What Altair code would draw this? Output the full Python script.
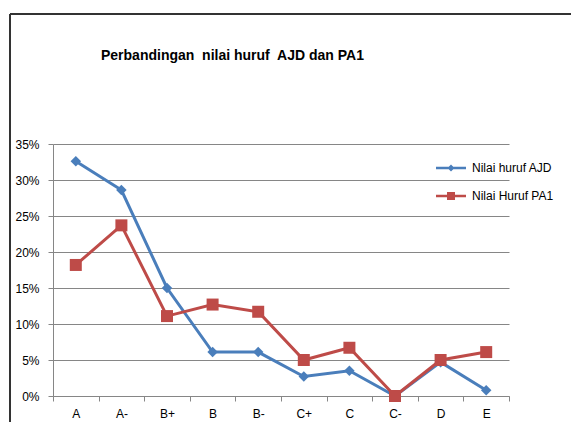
import altair as alt
import pandas as pd

grades = ["A", "A-", "B+", "B", "B-", "C+", "C", "C-", "D", "E"]
ajd = [0.326, 0.286, 0.150, 0.061, 0.061, 0.027, 0.035, 0.0, 0.047, 0.008]
pa1 = [0.182, 0.237, 0.111, 0.127, 0.117, 0.050, 0.067, 0.0, 0.050, 0.061]
series_names = ["Nilai huruf AJD", "Nilai Huruf PA1"]
series_colors = ["#4A7EBB", "#BE4B48"]
y_ticks = [0, 0.05, 0.10, 0.15, 0.20, 0.25, 0.30, 0.35]
title_text = "Perbandingan\u00a0 nilai huruf\u00a0 AJD dan PA1"

rows = []
for g, v in zip(grades, ajd):
    rows.append({"grade": g, "value": v, "series": series_names[0]})
for g, v in zip(grades, pa1):
    rows.append({"grade": g, "value": v, "series": series_names[1]})
df = pd.DataFrame(rows)

FONT = "Liberation Sans"

# legend symbols: a line sample with the series marker on it
legend_paths = [
    "M-3,-0.25L3,-0.25L3,0.25L-3,0.25Z M-0.7,0L0,-0.7L0.7,0L0,0.7Z",
    "M-3,-0.25L3,-0.25L3,0.25L-3,0.25Z M-0.8,-0.8L0.8,-0.8L0.8,0.8L-0.8,0.8Z",
]

x = alt.X(
    "grade:N",
    sort=grades,
    scale=alt.Scale(type="band", paddingInner=0, paddingOuter=0),
    axis=alt.Axis(
        title=None,
        labelAngle=0,
        tickBand="extent",
        tickSize=5,
        tickColor="#868686",
        domainColor="#868686",
        labelPadding=7,
        labelFont=FONT,
        labelFontSize=12,
        labelColor="#000000",
        grid=False,
    ),
)
y = alt.Y(
    "value:Q",
    scale=alt.Scale(domain=[0, 0.35], nice=False),
    axis=alt.Axis(
        title=None,
        format=".0%",
        values=y_ticks,
        tickSize=5,
        tickColor="#868686",
        domainColor="#868686",
        gridColor="#868686",
        labelPadding=9,
        labelFont=FONT,
        labelFontSize=12,
        labelColor="#000000",
    ),
)

def series_layers(name, col, shape, size):
    src = alt.Chart(df).transform_filter(alt.datum.series == name)
    ln = src.mark_line(strokeWidth=3, color=col).encode(x=x, y=y)
    pt = src.mark_point(filled=True, opacity=1, shape=shape, size=size, color=col).encode(x=x, y=y)
    return ln, pt

ajd_line, ajd_pts = series_layers(series_names[0], series_colors[0], "diamond", 110)
pa1_line, pa1_pts = series_layers(series_names[1], series_colors[1], "square", 144)

# legend-only layer (no rows pass the filter; entries come from the scale domains)
legend_layer = (
    alt.Chart(df)
    .transform_filter(alt.datum.value < 0)
    .mark_point(filled=True, opacity=1, size=100)
    .encode(
        x=x,
        y=y,
        color=alt.Color(
            "series:N",
            scale=alt.Scale(domain=series_names, range=series_colors),
            legend=alt.Legend(
                title=None,
                orient="none",
                legendX=392,
                legendY=18,
                padding=0,
                symbolOpacity=1,
                labelOffset=15,
                rowPadding=14,
                labelFont=FONT,
                labelFontSize=12,
                labelColor="#000000",
            ),
        ),
        shape=alt.Shape(
            "series:N",
            scale=alt.Scale(domain=series_names, range=legend_paths),
        ),
    )
)

frame_top = alt.Chart(df).mark_rule(color="#333333", strokeWidth=2).encode(
    x=alt.value(-43), x2=alt.value(600), y=alt.value(-130)
)
frame_left = alt.Chart(df).mark_rule(color="#333333", strokeWidth=2).encode(
    x=alt.value(-43), y=alt.value(-130), y2=alt.value(400)
)

chart = (
    alt.layer(frame_top, frame_left, ajd_line, pa1_line, ajd_pts, pa1_pts, legend_layer)
    .properties(
        width=456,
        height=252,
        autosize=alt.AutoSizeParams(type="none"),
        padding={"left": 45, "top": 136, "right": 62, "bottom": 26},
        title=alt.Title(
            title_text,
            anchor="start",
            frame="group",
            dx=48,
            offset=-50,
            font=FONT,
            fontSize=14,
            fontWeight="bold",
            color="#000000",
        ),
    )
    .configure_view(stroke=None)
    .configure_axis(gridWidth=1, domainWidth=1, tickWidth=1)
)

chart.save("out.html", embed_options={"renderer": "svg", "actions": False})
